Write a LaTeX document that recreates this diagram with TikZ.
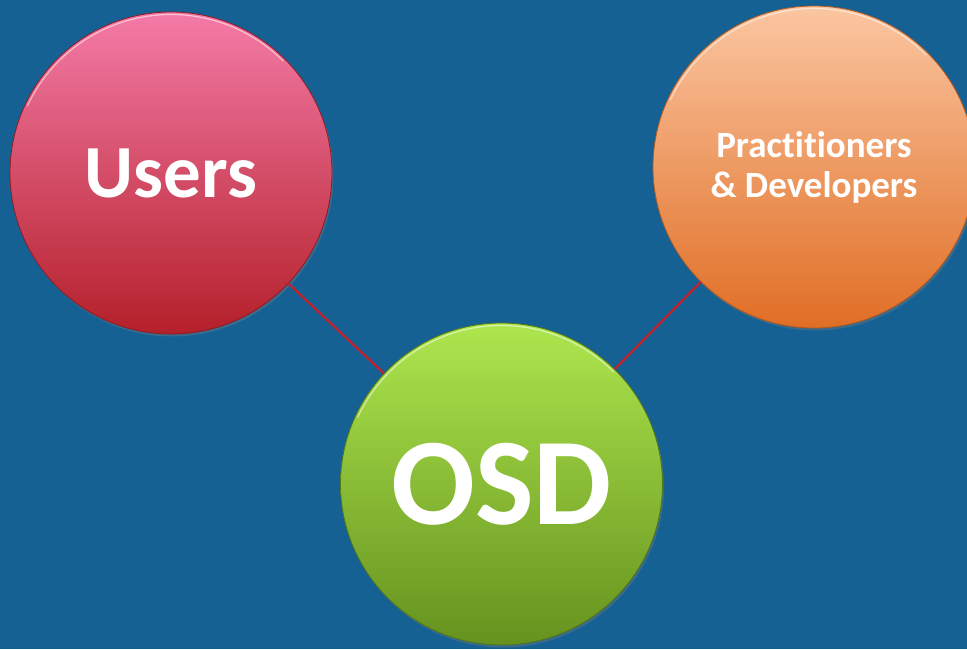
\documentclass[tikz,border=0pt]{standalone}
\usepackage{fontspec}
\setmainfont[Ligatures=NoCommon]{Carlito}
\usetikzlibrary{shadows}
\definecolor{backblue}{HTML}{156194}
\definecolor{linkred}{HTML}{C8202A}
\tikzset{
  ball/.style={circle,minimum size=322pt,inner sep=0pt,text=white,align=center,
    drop shadow={opacity=.35,shadow xshift=1.5pt,shadow yshift=-2.5pt}},
  shine/.style={white,opacity=.55,line width=1.2pt,line cap=round},
  link/.style={linkred,line width=2.2pt}
}
\providecommand{\Ball}[6]{
\node[ball,top color=#3,bottom color=#4,draw=#4!80!black,line width=.8pt,
  font=\bfseries\fontsize{#5}{1.08\dimexpr#5pt\relax}\selectfont] (#1) at (#2) {#6};
\draw[shine] (#1.center) ++(155:158.5) arc[start angle=155,end angle=45,radius=158.5];
}
\begin{document}
\begin{tikzpicture}[x=1pt,y=1pt]
\useasboundingbox[fill=backblue] (0,0) rectangle (967,649);
\definecolor{userstop}{HTML}{F47BA7}\definecolor{usersbot}{HTML}{B4202A}
\definecolor{practop}{HTML}{FBC6A1}\definecolor{pracbot}{HTML}{E06E25}
\definecolor{osdtop}{HTML}{AEE64E}\definecolor{osdbot}{HTML}{65921E}
\Ball{users}{171,476}{userstop}{usersbot}{75}{Users}
\Ball{prac}{814,482}{practop}{pracbot}{37}{Practitioners\\\& Developers}
\Ball{osd}{501.5,165}{osdtop}{osdbot}{124}{OSD}
\draw[link] (users) -- (osd);
\draw[link] (prac) -- (osd);
\end{tikzpicture}
\end{document}
